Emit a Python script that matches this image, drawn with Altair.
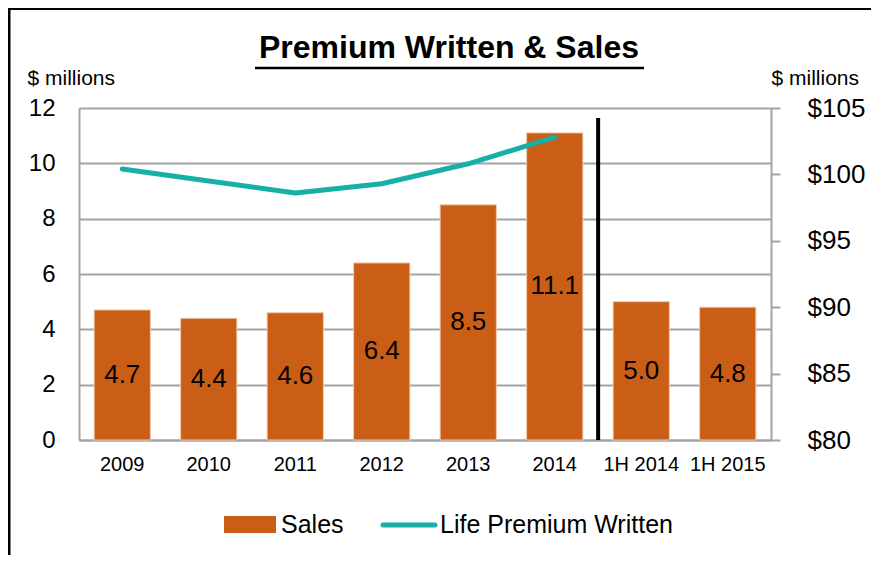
import altair as alt
import pandas as pd

categories = ["2009", "2010", "2011", "2012", "2013", "2014", "1H 2014", "1H 2015"]
sales = [4.7, 4.4, 4.6, 6.4, 8.5, 11.1, 5.0, 4.8]
premium = [100.4, 99.5, 98.6, 99.3, 100.8, 102.8, None, None]
left_ticks = [0, 2, 4, 6, 8, 10, 12]
right_ticks = [80, 85, 90, 95, 100, 105]
title_text = ["Premium Written & Sales"]
legend_labels = ["Sales", "Life Premium Written"]

df = pd.DataFrame({"cat": categories, "sales": sales, "premium": premium})

FONT = "Liberation Sans"
ORANGE = "#CA5E16"
TEAL = "#17B0A6"
GRID = "#A3A3A3"

xenc = alt.X(
    "cat:N",
    sort=categories,
    scale=alt.Scale(paddingInner=0.35, paddingOuter=0.175),
    axis=alt.Axis(
        title=None, labelAngle=0, labelFont=FONT, labelFontSize=20,
        labelColor="black", labelPadding=14, ticks=False,
        domainColor=GRID, domainWidth=2,
    ),
)

left_axis = alt.Axis(
    values=left_ticks, title="$ millions", titleAngle=0,
    titleAlign="left", titleBaseline="alphabetic",
    titleX=-52, titleY=-24, titleFont=FONT, titleFontSize=21,
    titleFontWeight="normal", titleColor="black",
    labelFont=FONT, labelFontSize=24, labelColor="black",
    labelPadding=24, ticks=False,
    domainColor=GRID, domainWidth=2,
    grid=True, gridColor=GRID, gridWidth=2,
)

base = alt.Chart(df)

bars = base.mark_bar(color=ORANGE, stroke="#F0C8A8", strokeWidth=1).encode(
    x=xenc,
    y=alt.Y("sales:Q", scale=alt.Scale(domain=[0, 12]), axis=left_axis),
)

labels = base.transform_calculate(mid="datum.sales / 2").mark_text(
    font=FONT, fontSize=26, color="black", baseline="middle"
).encode(
    x=alt.X("cat:N", sort=categories),
    y=alt.Y("mid:Q", axis=left_axis),
    text=alt.Text("sales:Q", format=".1f"),
)

separator = base.transform_filter("datum.cat == '1H 2014'").mark_rule(
    color="black", strokeWidth=4, xOffset=-15
).encode(
    x=alt.X("cat:N", sort=categories, bandPosition=0),
    y=alt.value(10),
    y2=alt.value(332),
)

left_layer = alt.layer(bars, labels, separator)

line = base.transform_filter("datum.premium != null").mark_line(
    color=TEAL, strokeWidth=5, strokeCap="round", strokeJoin="round"
).encode(
    x=alt.X("cat:N", sort=categories),
    y=alt.Y(
        "premium:Q",
        scale=alt.Scale(domain=[80, 105]),
        axis=alt.Axis(
            orient="right", values=right_ticks,
            labelExpr="'$' + datum.value",
            title="$ millions", titleAngle=0, titleAlign="left",
            titleBaseline="alphabetic", titleX=0, titleY=-24,
            titleFont=FONT, titleFontSize=21, titleFontWeight="normal",
            titleColor="black",
            labelFont=FONT, labelFontSize=26, labelColor="black",
            labelPadding=27, tickSize=9, tickColor=GRID, tickWidth=2,
            domainColor=GRID, domainWidth=2, grid=False,
        ),
    ),
)

title_df = pd.DataFrame({"t": title_text})
title = alt.Chart(title_df).mark_text(
    font=FONT, fontSize=32, fontWeight="bold", color="black",
    align="center", baseline="alphabetic"
).encode(x=alt.value(370), y=alt.value(-50), text="t:N")

underline = alt.Chart(title_df).mark_rule(color="black", strokeWidth=2.5).encode(
    x=alt.value(176), x2=alt.value(565), y=alt.value(-40)
)

leg_df = pd.DataFrame({"label": legend_labels})
leg_rect = alt.Chart(leg_df).transform_filter("datum.label == 'Sales'").mark_rect(
    color=ORANGE
).encode(x=alt.value(145), x2=alt.value(197), y=alt.value(408), y2=alt.value(425))
leg_line = alt.Chart(leg_df).transform_filter("datum.label != 'Sales'").mark_rule(
    color=TEAL, strokeWidth=5, strokeCap="round"
).encode(x=alt.value(304), x2=alt.value(356), y=alt.value(417))
leg_text1 = alt.Chart(leg_df).transform_filter("datum.label == 'Sales'").mark_text(
    font=FONT, fontSize=25, color="black", align="left", baseline="middle"
).encode(x=alt.value(202), y=alt.value(417), text="label:N")
leg_text2 = alt.Chart(leg_df).transform_filter("datum.label != 'Sales'").mark_text(
    font=FONT, fontSize=25, color="black", align="left", baseline="middle"
).encode(x=alt.value(361), y=alt.value(417), text="label:N")

frame_top = alt.Chart(title_df).mark_rule(color="black", strokeWidth=3).encode(
    x=alt.value(-72), x2=alt.value(800), y=alt.value(-99.5)
)
frame_left = alt.Chart(title_df).mark_rule(color="black", strokeWidth=3).encode(
    x=alt.value(-70), y=alt.value(-101), y2=alt.value(460)
)

chart = alt.layer(
    left_layer, line, title, underline, leg_rect, leg_line, leg_text1, leg_text2,
    frame_top, frame_left,
).resolve_scale(y="independent").properties(
    width=692, height=332,
    autosize=alt.AutoSizeParams(type="none"),
    padding={"left": 71, "top": 100, "right": 100, "bottom": 115},
    background="white",
).configure_view(stroke=None)

chart.save("out.html", embed_options={"renderer": "svg", "actions": False})
